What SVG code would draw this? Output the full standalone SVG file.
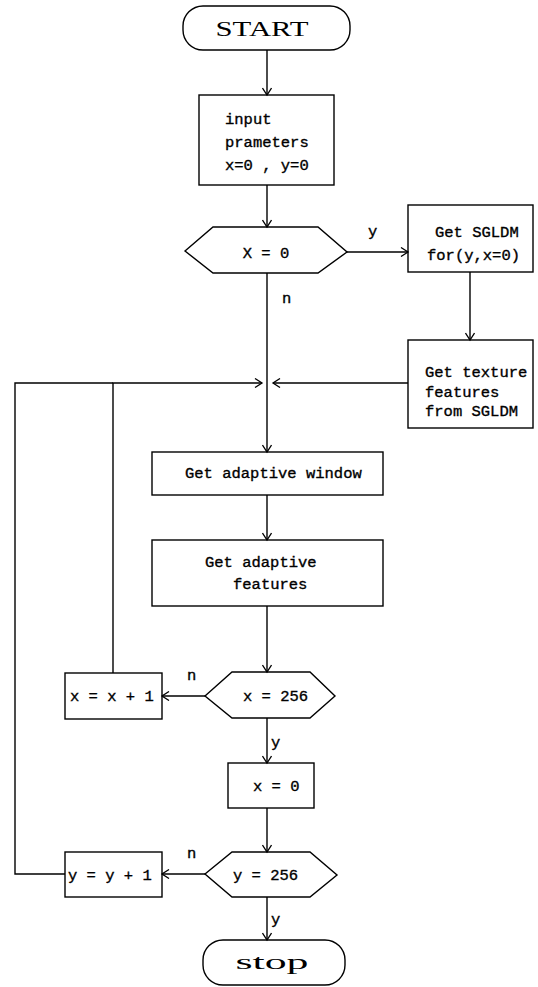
<svg xmlns="http://www.w3.org/2000/svg" width="538" height="987" viewBox="0 0 538 987">
<style>
.s{fill:none;stroke:#000;stroke-width:1.4}
.t{font-family:"Liberation Mono","DejaVu Sans Mono",monospace;font-size:15.5px;fill:#000;stroke:#000;stroke-width:0.35}
.r{font-family:"Liberation Serif","Times New Roman",serif;font-size:20px;fill:#000}
.c{stroke:#000;stroke-width:1.4;fill:none}
</style>
<defs>
<marker id="a" markerWidth="10" markerHeight="10" refX="8" refY="5" orient="auto" markerUnits="userSpaceOnUse">
<path d="M1,0.5 L8,5 L1,9.5" fill="none" stroke="#000" stroke-width="1.3"/>
</marker>
</defs>
<rect width="538" height="987" fill="#fff"/>
<g id="start"><rect class="s" x="183" y="6" width="167" height="44" rx="20"/><text class="r" x="262" y="36" text-anchor="middle" textLength="93" lengthAdjust="spacingAndGlyphs">START</text></g>
<g id="input"><rect class="s" x="199" y="95" width="135" height="90"/><text class="t" x="225" y="124">input</text><text class="t" x="225" y="147">prameters</text><text class="t" x="225" y="170">x=0 , y=0</text></g>
<g id="dx0"><polygon class="s" points="185,251 213,227 318,227 347,252 318,273 213,273"/><text class="t" x="266" y="258" text-anchor="middle">X = 0</text></g>
<g id="sgldm"><rect class="s" x="408" y="205" width="125" height="67"/><text class="t" x="435" y="237">Get SGLDM</text><text class="t" x="427" y="260">for(y,x=0)</text></g>
<g id="texture"><rect class="s" x="408" y="340" width="125" height="88"/><text class="t" x="425" y="377">Get texture</text><text class="t" x="425" y="397">features</text><text class="t" x="425" y="416">from SGLDM</text></g>
<g id="window"><rect class="s" x="152" y="452" width="231" height="43"/><text class="t" x="185" y="478">Get adaptive window</text></g>
<g id="features"><rect class="s" x="152" y="540" width="231" height="66"/><text class="t" x="205" y="567">Get adaptive</text><text class="t" x="233" y="589">features</text></g>
<g id="dx256"><polygon class="s" points="205,696 232,672 310,672 335,696 310,718 232,718"/><text class="t" x="243" y="701">x = 256</text></g>
<g id="xinc"><rect class="s" x="65" y="673" width="97" height="46"/><text class="t" x="70" y="701">x = x + 1</text></g>
<g id="x0"><rect class="s" x="228" y="763" width="86" height="45"/><text class="t" x="253" y="791">x = 0</text></g>
<g id="dy256"><polygon class="s" points="205,874 232,852 310,852 337,875 310,897 232,897"/><text class="t" x="233" y="880">y = 256</text></g>
<g id="yinc"><rect class="s" x="65" y="852" width="97" height="45"/><text class="t" x="68" y="880">y = y + 1</text></g>
<g id="stop"><rect class="s" x="203" y="940" width="142" height="45" rx="20"/><text class="r" x="272" y="969" text-anchor="middle" textLength="73" lengthAdjust="spacingAndGlyphs">stop</text></g>
<g id="connectors">
<path class="c" d="M267,50 V95" marker-end="url(#a)"/>
<path class="c" d="M267,185 V227" marker-end="url(#a)"/>
<path class="c" d="M347,252 H408" marker-end="url(#a)"/>
<path class="c" d="M470,272 V340" marker-end="url(#a)"/>
<path class="c" d="M408,383 H273" marker-end="url(#a)"/>
<path class="c" d="M267,273 V452" marker-end="url(#a)"/>
<path class="c" d="M267,495 V540" marker-end="url(#a)"/>
<path class="c" d="M267,606 V672" marker-end="url(#a)"/>
<path class="c" d="M205,696 H162" marker-end="url(#a)"/>
<path class="c" d="M113,673 V383 H262" marker-end="url(#a)"/>
<path class="c" d="M267,718 V763" marker-end="url(#a)"/>
<path class="c" d="M267,808 V852" marker-end="url(#a)"/>
<path class="c" d="M205,874 H162" marker-end="url(#a)"/>
<path class="c" d="M65,874 H15 V383 H113"/>
<path class="c" d="M267,897 V940" marker-end="url(#a)"/>
<text class="t" x="368" y="236">y</text>
<text class="t" x="282" y="303">n</text>
<text class="t" x="187" y="680">n</text>
<text class="t" x="271" y="747">y</text>
<text class="t" x="187" y="858">n</text>
<text class="t" x="271" y="924">y</text>
</g>
</svg>
